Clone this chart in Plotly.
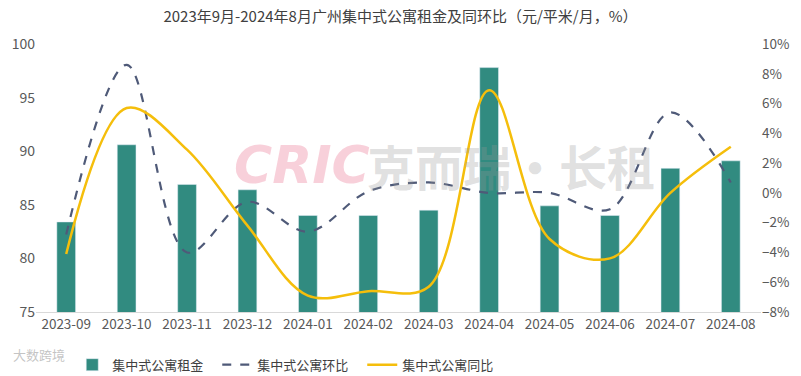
import plotly.graph_objects as go

months = ["2023-09", "2023-10", "2023-11", "2023-12", "2024-01", "2024-02",
          "2024-03", "2024-04", "2024-05", "2024-06", "2024-07", "2024-08"]
rent = [83.4, 90.6, 86.9, 86.4, 84.0, 84.0, 84.5, 97.8, 84.9, 84.0, 88.4, 89.1]
mom = [-2.8, 8.6, -4.0, -0.6, -2.6, 0.1, 0.7, 0.0, 0.0, -1.1, 5.4, 0.7]
yoy = [-4.1, 5.7, 2.9, -2.2, -6.9, -6.6, -6.3, 6.9, -3.1, -4.4, 0.0, 3.1]

font_cjk = "Noto Sans CJK SC"

fig = go.Figure()
fig.add_trace(go.Bar(x=months, y=rent, name="集中式公寓租金",
                     marker_color="#318B80", width=0.31, yaxis="y"))
fig.add_trace(go.Scatter(x=months, y=mom, name="集中式公寓环比", mode="lines",
                         line=dict(color="#4F5A78", width=2.2, dash="dash",
                                   shape="spline", smoothing=1.0),
                         yaxis="y2"))
fig.add_trace(go.Scatter(x=months, y=yoy, name="集中式公寓同比", mode="lines",
                         line=dict(color="#F5BE0B", width=2.5,
                                   shape="spline", smoothing=1.0),
                         yaxis="y2"))

fig.update_layout(
    width=801, height=376,
    margin=dict(l=36, r=40, t=44, b=64),
    paper_bgcolor="white", plot_bgcolor="white",
    font=dict(family=font_cjk, size=12, color="#595959"),
    title=dict(text="2023年9月-2024年8月广州集中式公寓租金及同环比（元/平米/月，%）",
               x=0.5, xanchor="center", y=0.955, yanchor="middle",
               font=dict(size=15, color="#404040", family=font_cjk)),
    xaxis=dict(type="category", showline=True, linecolor="#D9D9D9", linewidth=1,
               ticks="", tickfont=dict(size=13.5, color="#595959"), showgrid=False,
               automargin=False),
    yaxis=dict(range=[75, 100], dtick=5, showgrid=False, zeroline=False,
               tickfont=dict(size=14, color="#595959"), ticks="", automargin=False),
    yaxis2=dict(range=[-8, 10], dtick=2, overlaying="y", side="right",
                showgrid=False, zeroline=False, ticksuffix="%",
                tickfont=dict(size=13.5, color="#595959"), ticks="", automargin=False),
    legend=dict(orientation="h", x=0.05, xanchor="left",
                yref="container", y=0.03, yanchor="middle",
                font=dict(size=13, color="#404040"),
                entrywidth=100, entrywidthmode="pixels",
                traceorder="normal"),
    bargap=0.5,
)

# watermarks
fig.add_annotation(text="<i><b>CRIC</b></i>", xref="paper", yref="paper",
                   x=0.27, y=0.55, showarrow=False,
                   font=dict(size=52, color="rgba(235,120,150,0.35)", family="DejaVu Sans"))
fig.add_annotation(text="<b>克而瑞·长租</b>", xref="paper", yref="paper",
                   x=0.655, y=0.55, showarrow=False,
                   font=dict(size=48, color="rgba(150,150,150,0.30)", family=font_cjk))
fig.add_annotation(text="大数跨境", xref="paper", yref="paper",
                   x=-0.035, y=-0.16, xanchor="left", yanchor="middle", showarrow=False,
                   font=dict(size=13, color="rgba(170,170,170,0.7)", family=font_cjk))

fig.write_html("out.html")
